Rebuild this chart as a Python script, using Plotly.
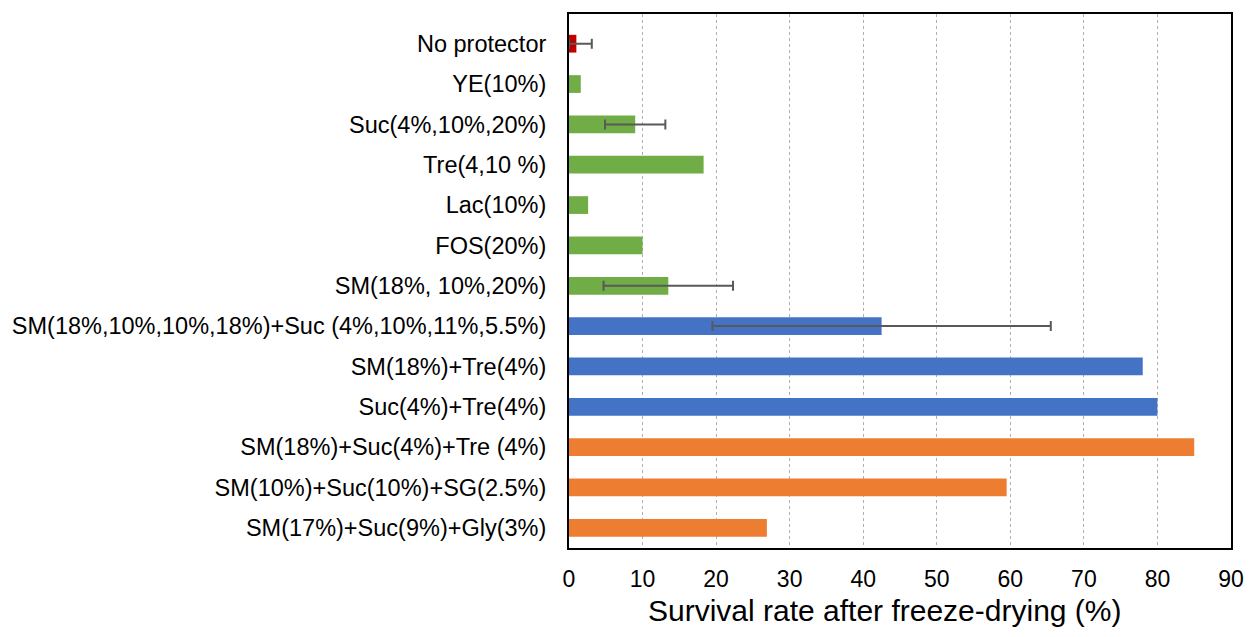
import plotly.graph_objects as go

categories = [
    "No protector",
    "YE(10%)",
    "Suc(4%,10%,20%)",
    "Tre(4,10 %)",
    "Lac(10%)",
    "FOS(20%)",
    "SM(18%, 10%,20%)",
    "SM(18%,10%,10%,18%)+Suc (4%,10%,11%,5.5%)",
    "SM(18%)+Tre(4%)",
    "Suc(4%)+Tre(4%)",
    "SM(18%)+Suc(4%)+Tre (4%)",
    "SM(10%)+Suc(10%)+SG(2.5%)",
    "SM(17%)+Suc(9%)+Gly(3%)",
]
values = [1.0, 1.6, 9.0, 18.3, 2.6, 10.0, 13.5, 42.5, 78.0, 80.0, 85.0, 59.5, 26.9]
errors = [2.1, None, 4.1, None, None, None, 8.8, 23.0, None, None, None, None, None]
groups = ["none", "single", "single", "single", "single", "single", "single",
          "double", "double", "double", "triple", "triple", "triple"]
group_colors = {"none": "#C00000", "single": "#70AD47", "double": "#4472C4", "triple": "#ED7D31"}
tick_vals = [0, 10, 20, 30, 40, 50, 60, 70, 80, 90]
x_title = "Survival rate after freeze-drying (%)"

colors = [group_colors[g] for g in groups]
err_idx = [i for i, e in enumerate(errors) if e is not None]
err_y = [categories[i] for i in err_idx]
err_x = [values[i] for i in err_idx]
err_plus = [errors[i] for i in err_idx]
err_minus = [min(errors[i], values[i]) for i in err_idx]

fig = go.Figure()
fig.add_trace(go.Bar(
    y=categories,
    x=values,
    orientation="h",
    marker=dict(color=colors, line=dict(width=0)),
    hoverinfo="x+y",
))
fig.add_trace(go.Scatter(
    y=err_y,
    x=err_x,
    mode="markers",
    marker=dict(size=0.1, opacity=0),
    error_x=dict(type="data", symmetric=False, array=err_plus, arrayminus=err_minus,
                 color="#595959", thickness=2, width=5),
    hoverinfo="skip",
))

fig.update_layout(
    width=1240, height=621,
    margin=dict(l=559, r=15, t=4, b=81),
    paper_bgcolor="white", plot_bgcolor="white",
    bargap=0.56,
    showlegend=False,
    font=dict(family="Liberation Sans, Arial, sans-serif", color="black"),
    annotations=[dict(
        text=x_title, xref="paper", yref="paper", x=0.477, y=0,
        xanchor="center", yanchor="top", yshift=-44, showarrow=False,
        font=dict(size=30, color="black"),
    )],
)
fig.update_xaxes(
    range=[0, 90], tickvals=tick_vals,
    showgrid=True, gridcolor="#B0B0B0", griddash="dot", gridwidth=1,
    showline=True, linecolor="black", linewidth=1.5, mirror=True,
    ticks="", tickfont=dict(size=23), ticklabelstandoff=10,
    zeroline=False,
)
fig.update_yaxes(
    autorange="reversed",
    showline=True, linecolor="black", linewidth=2, mirror=True,
    ticks="", tickfont=dict(size=23.5), ticklabelstandoff=16,
    showgrid=False,
)

fig.write_html("out.html")
